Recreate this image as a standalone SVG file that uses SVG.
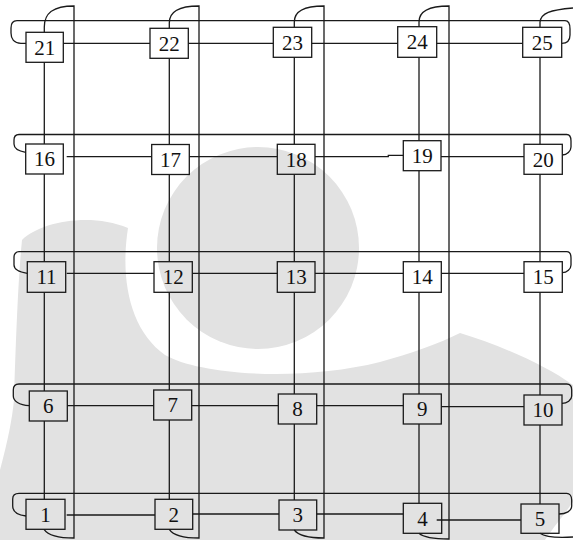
<svg xmlns="http://www.w3.org/2000/svg" width="573" height="540" viewBox="0 0 573 540">
<style>
.n rect{fill:none;stroke:#1a1a1a;stroke-width:1.3}
.n text{font-family:"Liberation Serif","Times New Roman",serif;font-size:21px;fill:#111;text-anchor:middle}
.c path{fill:none;stroke:#1a1a1a;stroke-width:1.3}
.wm{fill:#e2e2e2;stroke:none}
</style>
<rect width="573" height="540" fill="#fff"/>
<g id="watermark">
<circle class="wm" cx="258" cy="248" r="101"/>
<path class="wm" d="M22,240 C40,222 90,212 128,228 C120,280 130,330 165,355 C200,375 300,382 380,362 C410,354 440,343 460,333 C500,345 545,365 573,385 L573,502 C560,520 550,532 545,540 L0,540 L0,470 C8,440 12,420 14,400 C16,340 18,280 22,240 Z"/>
</g>
<g id="connectors" class="c">
<!-- row wraparound lines -->
<path d="M26,43.3 H21 C14,43.3 11,39 11,33 V28 C11,23 13,20.7 17,20.7 H565 C569,20.7 570,24 570,29 V35 C570,40 567,43.3 561.7,43.3"/>
<path d="M25.7,152.3 C18,151 14,148 14,144 V140 C14,136 16,134.5 19,134.5 H566.7 C569.5,134.5 571,137 571,141 V147 C571,151 567,155 562.3,155"/>
<path d="M27.3,273.3 C19,272 14,269 14,265 V257 C14,254 16,251.7 19,251.7 H566.7 C569.5,251.7 571,254 571,258 V265 C571,269 567,272.7 562.3,272.7"/>
<path d="M29.3,405.7 C19,405 13.3,401 13.3,396 V390 C13.3,386 15,384 19,384 H566.7 C569.5,384 571.7,386 571.7,390 V396 C571.7,400 567,403.3 562,403.3"/>
<path d="M26,516 C17,515 12.7,511 12.7,506 V499 C12.7,495 15,493.3 19,493.3 H566.7 C569.5,493.3 571.7,496 571.7,500 V506 C571.7,511 566,514 559,514"/>
<!-- column wraparound lines -->
<path d="M44.3,32.3 V27 C44.3,13 53,6 74,6 V538 C58,538 48,535 44,529.3"/>
<path d="M169.3,28.3 V23 C169.3,12 178,6 199,6 V538 C183,538 173,535 169.3,529.3"/>
<path d="M294.3,27.3 V22 C294.3,12 303,6 324,6 V538 C308,538 298,535 294.3,530"/>
<path d="M419,26.7 V22 C419,12 428,6 449,6 V539 C433,539 423,537 419,533.3"/>
<path d="M540,27.3 V22 C541,13 550,10 573,8"/>
<path d="M540,533.3 C545,537 556,538 573,537"/>
<!-- row links -->
<path d="M63.3,43.3 H150 M188.3,43.3 H273.3 M311.7,43.3 H397.7 M436.7,43.3 H522.7"/>
<path d="M66.7,156.7 H151.7 M189.3,156.7 H277.3 M315,156.7 H388.3 V155.3 H403.3 M441,156.7 H524"/>
<path d="M66.7,273.3 H154 M192.3,273.3 H277.3 M315,273.3 H403.3 M441.3,273.3 H524"/>
<path d="M67.3,405.7 H153.7 M191.7,405.7 H278.3 M316.7,405.7 H403.3 M441.3,406.7 H524"/>
<path d="M66.7,515 H155 M192.7,514 H279 M316.7,514 H403.3 M436.7,520 H521"/>
<!-- column links -->
<path d="M44.3,62.3 V144 M44.3,174 V261.7 M44.3,292.3 V391 M44.3,421 V499.3"/>
<path d="M169.3,58.3 V144.5 M169.3,174.5 V261.7 M169.3,292.3 V390 M169.3,420 V499.3"/>
<path d="M294.3,57.3 V144.3 M294.3,174.3 V261.7 M294.3,292.3 V394 M294.3,424 V500"/>
<path d="M419,57.3 V140.7 M419,170.7 V261.7 M419,292.3 V394 M419,424 V503.3"/>
<path d="M540,57.3 V144.3 M540,174.3 V261.7 M540,292.3 V395 M540,425 V504"/>
</g>
<g id="n21" class="n"><rect x="26" y="32.3" width="37.3" height="30"/><text x="44.7" y="54.5">21</text></g>
<g id="n22" class="n"><rect x="150" y="28.3" width="38.3" height="30"/><text x="169.2" y="50.5">22</text></g>
<g id="n23" class="n"><rect x="273.3" y="27.3" width="38.4" height="30"/><text x="292.5" y="49.5">23</text></g>
<g id="n24" class="n"><rect x="397.7" y="26.7" width="39" height="30.6"/><text x="417.2" y="49.2">24</text></g>
<g id="n25" class="n"><rect x="522.7" y="27.3" width="39" height="30"/><text x="542.2" y="49.5">25</text></g>
<g id="n16" class="n"><rect x="25.7" y="144" width="37.6" height="30"/><text x="44.5" y="166.2">16</text></g>
<g id="n17" class="n"><rect x="151.7" y="144.5" width="37.6" height="30"/><text x="170.5" y="166.7">17</text></g>
<g id="n18" class="n"><rect x="277.3" y="144.3" width="37.7" height="30"/><text x="296.2" y="166.5">18</text></g>
<g id="n19" class="n"><rect x="403.3" y="140.7" width="37.7" height="30"/><text x="422.2" y="162.9">19</text></g>
<g id="n20" class="n"><rect x="524" y="144.3" width="38.3" height="30"/><text x="543.2" y="166.5">20</text></g>
<g id="n11" class="n"><rect x="27.3" y="261.7" width="38.4" height="30.6"/><text x="46.5" y="284.2">11</text></g>
<g id="n12" class="n"><rect x="154" y="261.7" width="38.3" height="30.6"/><text x="173.2" y="284.2">12</text></g>
<g id="n13" class="n"><rect x="277.3" y="261.7" width="37.7" height="30.6"/><text x="296.2" y="284.2">13</text></g>
<g id="n14" class="n"><rect x="403.3" y="261.7" width="38" height="30.6"/><text x="422.3" y="284.2">14</text></g>
<g id="n15" class="n"><rect x="524" y="261.7" width="38.3" height="30.6"/><text x="543.2" y="284.2">15</text></g>
<g id="n6" class="n"><rect x="29.3" y="391" width="38" height="30"/><text x="48.3" y="413.2">6</text></g>
<g id="n7" class="n"><rect x="153.7" y="390" width="38" height="30"/><text x="172.7" y="412.2">7</text></g>
<g id="n8" class="n"><rect x="278.3" y="394" width="38.4" height="30"/><text x="297.5" y="416.2">8</text></g>
<g id="n9" class="n"><rect x="403.3" y="394" width="38" height="30"/><text x="422.3" y="416.2">9</text></g>
<g id="n10" class="n"><rect x="524" y="395" width="38" height="30"/><text x="543" y="417.2">10</text></g>
<g id="n1" class="n"><rect x="26" y="499.3" width="39" height="30"/><text x="45.5" y="521.5">1</text></g>
<g id="n2" class="n"><rect x="155" y="499.3" width="37.7" height="30"/><text x="173.8" y="521.5">2</text></g>
<g id="n3" class="n"><rect x="279" y="500" width="37.7" height="30"/><text x="297.8" y="522.2">3</text></g>
<g id="n4" class="n"><rect x="403.3" y="503.3" width="38.4" height="30"/><text x="422.5" y="525.5">4</text></g>
<g id="n5" class="n"><rect x="521" y="504" width="38" height="29.3"/><text x="540" y="525.9">5</text></g>
</svg>
